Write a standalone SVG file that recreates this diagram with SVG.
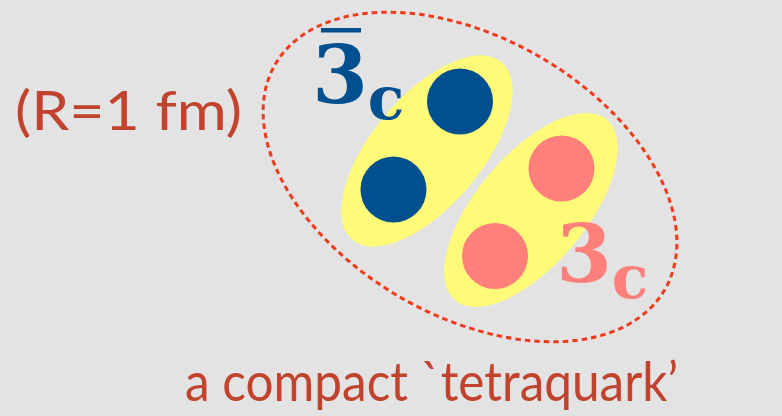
<svg xmlns="http://www.w3.org/2000/svg" width="782" height="416" viewBox="0 0 782 416">
<style>
.lbl{font-family:"Lato","Open Sans","Liberation Sans",sans-serif;fill:#C1432D;font-size:54px}
.num{font-family:"DejaVu Serif","Liberation Serif",serif;font-weight:bold;text-anchor:middle}
.yel{fill:#FFFA78}
.bq{fill:#00508F}
.pq{fill:#FF7F7A}
</style>
<rect x="0" y="0" width="782" height="416" fill="#E3E3E3"/>
<g id="boundary">
<ellipse cx="470" cy="177" rx="225" ry="139" transform="rotate(30 470 177)" fill="none" stroke="#F03A1C" stroke-width="3" stroke-dasharray="5.5 4"/>
</g>
<g id="antidiquark">
<ellipse class="yel" cx="427" cy="151" rx="116" ry="55" transform="rotate(-50 427 151)"/>
<circle class="bq" cx="460" cy="101.5" r="33"/>
<circle class="bq" cx="393.5" cy="189.5" r="33"/>
</g>
<g id="diquark">
<ellipse class="yel" cx="531" cy="210" rx="118" ry="55" transform="rotate(-50 531 210)"/>
<circle class="pq" cx="561.5" cy="168.5" r="33"/>
<circle class="pq" cx="495" cy="256" r="33"/>
</g>
<g id="label-3bar">
<rect x="321" y="28" width="40" height="4.5" fill="#00508F"/>
<text class="num" x="340" y="103" font-size="80" fill="#00508F">3</text>
<text class="num" x="386" y="119" font-size="60" fill="#00508F">c</text>
</g>
<g id="label-3">
<text class="num" x="584" y="282" font-size="80" fill="#FF7F7A">3</text>
<text class="num" x="630" y="298" font-size="60" fill="#FF7F7A">c</text>
</g>
<g id="radius">
<text class="lbl" x="15" y="130" textLength="227" lengthAdjust="spacingAndGlyphs">(R=1 fm)</text>
</g>
<g id="caption">
<text class="lbl" x="185" y="401" textLength="493" lengthAdjust="spacingAndGlyphs">a compact `tetraquark’</text>
</g>
<g id="connectors"/>
</svg>
